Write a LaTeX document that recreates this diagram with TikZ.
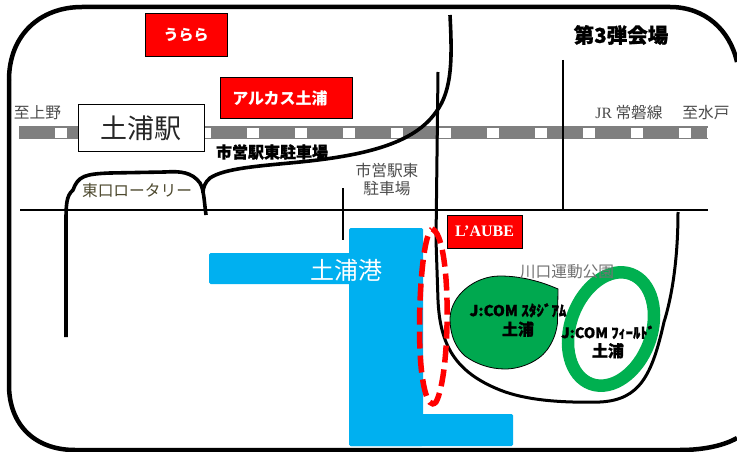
\documentclass[tikz,border=0pt]{standalone}
\usepackage{fontspec}
\setmainfont{Noto Sans CJK JP}
\newfontfamily\latinserif{Liberation Serif}
\newfontfamily\heavy[BoldFeatures={FakeBold=1}]{Noto Sans CJK JP}
\definecolor{harbour}{HTML}{00B0F0}
\definecolor{parkgreen}{HTML}{00A84F}
\definecolor{ringgreen}{HTML}{00B050}
\definecolor{trackgray}{HTML}{7F7F7F}
\newcommand{\fs}[1]{\fontsize{#1}{#1}\selectfont}
\tikzset{
  redbox/.style={draw=black,line width=1pt,fill=red,text=white,inner sep=0pt,font=\bfseries\fs{16}},
  thinroad/.style={line width=2pt,black},
  thickroad/.style={line width=3.6pt,black},
  label/.style={inner sep=0pt,text=black!70,align=center,font=\fs{15.7}},
  boldlabel/.style={inner sep=0pt,text=black,align=center,font=\heavy\bfseries\fs{15}},
  sleeper/.style={fill=white,draw=none},
  water/.style={fill=harbour,draw=none,rounded corners=1.5pt},
}
\begin{document}
\begin{tikzpicture}[x=1pt,y=-1pt]
\useasboundingbox (0,0) rectangle (737,452);
\fill[white] (0,0) rectangle (737,452);
% track
\fill[trackgray] (19,126) rectangle (708,139);
\foreach \k in {0,...,13}{\fill[sleeper] ({55+48*\k},128) rectangle +(12,10);}
\fill[sleeper] (706.5,128) rectangle (708,138);
% thin roads
\draw[thinroad] (20,209.5) -- (708,209.5);
\draw[thinroad] (342.5,188) -- (342.5,240);
\draw[thinroad] (563,60) -- (563,209.5);
% water
\fill[water] (209,253) rectangle (352,284);
\fill[water] (349,228) rectangle (423,446);
\fill[water] (349,414) rectangle (513,446);
% frame
\begin{scope}
\clip (0,0) rectangle (737,452);
\draw[line width=4.5pt] (9,80) .. controls (9,35) and (40,7) .. (82,7) -- (670,7) .. controls (705,7) and (730,30) .. (737,62);
\draw[line width=4.5pt] (9,80) -- (9,385) .. controls (9,425) and (35,450) .. (75,450) -- (680,450) .. controls (705,450) and (725,445) .. (737,438);
\end{scope}
% thick roads
\draw[thickroad] (450,15) .. controls (452,55) and (453,90) .. (436,112) .. controls (415,142) and (370,155) .. (300,162) .. controls (260,166) and (225,168) .. (210,178) .. controls (205,182) and (203,188) .. (203,193);
\draw[thickroad] (206,215) .. controls (204,200) and (204,190) .. (200,183) .. controls (192,172) and (180,171) .. (165,172) -- (110,173) .. controls (85,174) and (78,176) .. (73,190) .. controls (66,196) and (66,205) .. (66,225) -- (66,337);
\draw[line width=3pt] (438,72) -- (436,240) -- (438,300) .. controls (440,345) and (455,372) .. (500,390) .. controls (525,400) and (560,403) .. (600,402) .. controls (640,400) and (652,375) .. (664,322) .. controls (674,290) and (678,250) .. (678,212);
% venues
\path[fill=parkgreen,draw=black,line width=0.8pt] (558,289) -- (557.5,323) .. controls (556,335) and (552,343) .. (547,350) .. controls (538,362) and (520,369) .. (505,369) .. controls (490,369) and (476,364) .. (465,356) .. controls (456,348) and (450,336) .. (450,318) .. controls (451,295) and (475,276) .. (500,276) .. controls (520,276) and (540,281) .. (558,289) -- cycle;
\draw[ringgreen,line width=12.5pt] (611,329) ellipse[x radius=40.5,y radius=58.5,rotate=-20];
\draw[red,line width=5.5pt,dash pattern=on 17pt off 7pt] (432,229) .. controls (452,235) and (451,375) .. (436,402) .. controls (427,412) and (421,380) .. (420,350) .. controls (418,310) and (422,235) .. (432,229) -- cycle;
% boxes
\node[draw=black,line width=1pt,fill=white,minimum width=126pt,minimum height=46pt,inner sep=0pt,font=\fs{27},text=black!85] (station) at (141,128) {土浦駅};
\node[redbox,minimum width=82pt,minimum height=43pt,font=\bfseries\fs{15}] (urara) at (186,35.5) {うらら};
\node[redbox,minimum width=132pt,minimum height=41pt] (arcus) at (286,98.5) {\hspace*{-12pt}アルカス土浦};
\node[redbox,minimum width=75pt,minimum height=33pt,font=\latinserif\bfseries\fs{16}] (laube) at (484.5,231.5) {L’AUBE};
% labels
\node[label] (toueno) at (37.5,113) {至上野};
\node[label] (jr) at (629,113) {{\latinserif JR} 常磐線};
\node[label] (tomito) at (706,113) {至水戸};
\node[boldlabel,font=\heavy\bfseries\fs{16}] (parkb) at (272,152) {市営駅東駐車場};
\node[boldlabel,font=\heavy\bfseries\fs{20.5}] (third) at (621,35) {第3弾会場};
\node[label,text=black!60!olive] (rotary) at (137,191) {東口ロータリー};
\node[label,align=center] (parkr) at (387,179.5) {市営駅東\\[2pt]駐車場};
\node[inner sep=0pt,text=white,font=\fs{24}] (port) at (346,270) {土浦港};
\node[label,text=black!55] (kawaguchi) at (567,272) {川口運動公園};
\node[boldlabel,font=\heavy\bfseries\fs{15}] (stadium) at (518,320) {J:COM ｽﾀｼﾞｱﾑ\\[3pt]{\fs{16}土浦}};
\node[boldlabel,font=\heavy\bfseries\fs{14.5}] (field) at (608,342) {J:COM ﾌｨｰﾙﾄﾞ\\[3pt]{\fs{16}土浦}};
\end{tikzpicture}
\end{document}
